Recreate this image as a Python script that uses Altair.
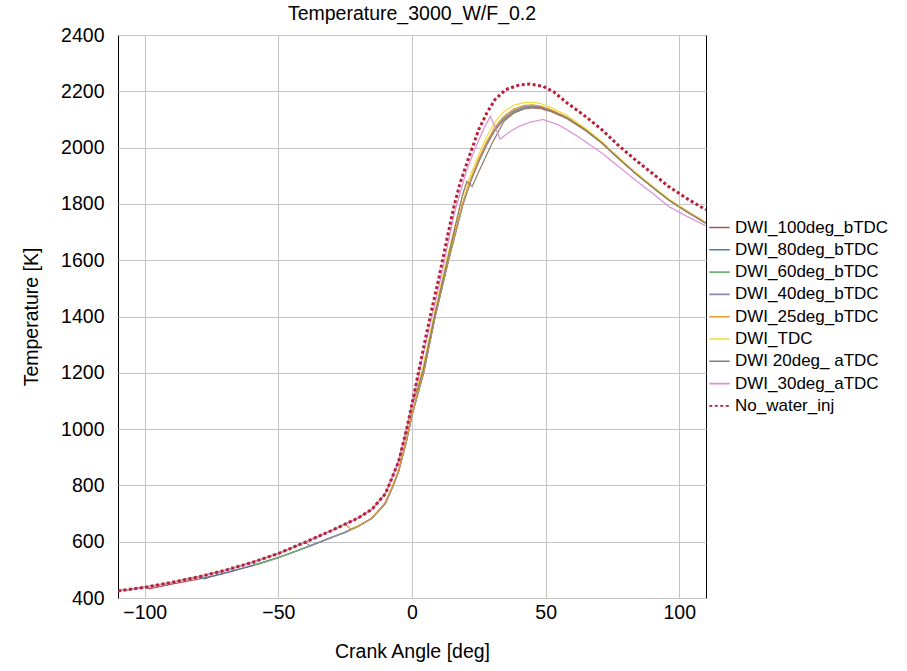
import altair as alt
import pandas as pd

# ---------------- data ----------------
series_names = [
    "DWI_100deg_bTDC", "DWI_80deg_bTDC", "DWI_60deg_bTDC", "DWI_40deg_bTDC",
    "DWI_25deg_bTDC", "DWI_TDC", "DWI 20deg_ aTDC", "DWI_30deg_aTDC", "No_water_inj",
]
series_colors = ["#b5524f", "#4a7e9b", "#6fb56f", "#9384b5", "#e49a2c",
                 "#f0dc3c", "#8a7d6e", "#d98fd6", "#b8203c"]

post_x = [0, 2, 4.3, 8.6, 13.6, 19, 22, 25, 28, 31, 34, 38, 42, 45, 48, 52, 58,
          65, 71, 77, 83.5, 90, 96, 103, 110]

dwi100_x = [-110, -100, -98, -90, -80, -70, -60, -50, -40, -30, -25, -20, -15, -10, -7, -5, -2] + post_x
dwi100_y = [425, 438, 433, 449, 467, 488, 514, 543, 578, 615, 633, 655, 683, 735, 800, 850, 960,
            1048, 1118, 1196, 1395, 1596, 1796, 1881, 1950, 2010, 2060, 2096, 2124, 2138, 2141,
            2139, 2128, 2103, 2060, 2016, 1963, 1909, 1859, 1814, 1771, 1731]

dwi80_x = [-110, -100, -90, -80, -78, -70, -60, -50, -40, -30, -25, -20, -15, -10, -7, -5, -2] + post_x
dwi80_y = [425, 438, 455, 475, 468, 489, 515, 544, 579, 616, 634, 656, 684, 737, 802, 852, 962,
           1052, 1121, 1202, 1402, 1601, 1801, 1886, 1956, 2016, 2066, 2101, 2130, 2144, 2147,
           2144, 2131, 2106, 2063, 2019, 1966, 1911, 1861, 1816, 1773, 1733]

dwi60_x = [-110, -100, -90, -80, -70, -60, -58, -50, -40, -30, -25, -20, -15, -10, -7, -5, -2] + post_x
dwi60_y = [425, 438, 455, 475, 498, 526, 518, 543, 578, 615, 633, 655, 683, 735, 800, 850, 960,
           1050, 1119, 1199, 1398, 1598, 1798, 1883, 1953, 2013, 2063, 2099, 2127, 2141, 2145,
           2142, 2130, 2105, 2062, 2018, 1965, 1910, 1860, 1815, 1772, 1732]

dwi40_x = [-110, -100, -90, -80, -70, -60, -50, -40, -38, -30, -25, -20, -15, -10, -7, -5, -2] + post_x
dwi40_y = [425, 438, 455, 475, 498, 526, 558, 598, 585, 616, 634, 656, 684, 736, 801, 851, 961,
           1051, 1121, 1201, 1401, 1600, 1800, 1885, 1955, 2015, 2066, 2102, 2131, 2146, 2149,
           2146, 2133, 2107, 2064, 2019, 1966, 1911, 1861, 1816, 1773, 1733]

dwi25_x = [-110, -100, -90, -80, -70, -60, -50, -40, -30, -25, -23, -20, -15, -10, -7, -5, -2] + post_x
dwi25_y = [425, 438, 455, 475, 498, 526, 558, 598, 640, 662, 645, 656, 684, 740, 805, 855, 965,
           1055, 1125, 1205, 1405, 1605, 1805, 1890, 1962, 2022, 2072, 2108, 2137, 2150, 2152,
           2148, 2135, 2108, 2065, 2020, 1967, 1912, 1862, 1817, 1774, 1734]

pre_nw_x = [-110, -100, -90, -80, -70, -60, -50, -40, -30, -20, -15, -10, -8, -5, -2]
pre_nw_y = [425, 438, 455, 475, 498, 526, 558, 598, 640, 685, 715, 770, 815, 885, 1000]

dwitdc_x = pre_nw_x + [0, 2, 4.3, 8, 13, 18.5, 22, 25, 28, 31, 34, 38, 42, 45, 48, 52, 58,
                       65, 71, 77, 83.5, 90, 96, 103, 110]
dwitdc_y = pre_nw_y + [1085, 1150, 1230, 1395, 1605, 1815, 1905, 1975, 2040, 2090, 2125, 2150,
                       2160, 2161, 2157, 2143, 2114, 2068, 2022, 1968, 1913, 1863, 1818, 1774, 1734]

dwi20a_x = pre_nw_x + [0, 2, 4.3, 8.6, 13.6, 19, 20.5, 22.5, 25, 30, 34.4, 38, 42, 45, 48, 52, 58,
                       65, 71, 77, 83.5, 90, 96, 103, 110]
dwi20a_y = pre_nw_y + [1085, 1140, 1215, 1410, 1615, 1835, 1880, 1862, 1915, 2016, 2093, 2122,
                       2138, 2143, 2141, 2130, 2105, 2062, 2017, 1964, 1909, 1859, 1814, 1771, 1731]

dwi30a_x = pre_nw_x + [0, 2.4, 5, 10, 15.8, 20.5, 24, 27, 29.3, 30.5, 33, 36.8, 40, 44, 49, 55, 62,
                       71, 77, 83.5, 90, 96, 103, 110]
dwi30a_y = pre_nw_y + [1088, 1190, 1300, 1505, 1765, 1921, 2005, 2070, 2111, 2085, 2030, 2058,
                       2075, 2090, 2100, 2080, 2040, 1981, 1935, 1885, 1838, 1791, 1755, 1722]

nowater_x = [-110, -100, -90, -80, -70, -60, -50, -40, -30, -20, -15, -10, -8, -5, -2, 0, 2.4, 5,
             6.8, 10, 11.2, 13.5, 15.8, 18, 20.7, 22.4, 25, 28, 31, 35, 40, 44, 49, 53, 58, 65,
             71, 77, 83.5, 90, 96, 103, 110]
nowater_y = [425, 438, 455, 475, 498, 526, 558, 598, 640, 685, 715, 770, 815, 885, 1000, 1090,
             1200, 1320, 1400, 1535, 1590, 1695, 1795, 1874, 1950, 1995, 2065, 2123, 2170, 2206,
             2222, 2226, 2218, 2198, 2159, 2110, 2064, 2010, 1957, 1908, 1862, 1818, 1779]

all_x = [dwi100_x, dwi80_x, dwi60_x, dwi40_x, dwi25_x, dwitdc_x, dwi20a_x, dwi30a_x, nowater_x]
all_y = [dwi100_y, dwi80_y, dwi60_y, dwi40_y, dwi25_y, dwitdc_y, dwi20a_y, dwi30a_y, nowater_y]

rows = []
for name, xs, ys in zip(series_names, all_x, all_y):
    for i, (a, t) in enumerate(zip(xs, ys)):
        rows.append({"series": name, "angle": a, "temp": t, "idx": i})
df = pd.DataFrame(rows)

FONT = "Liberation Sans"

color_scale = alt.Scale(domain=series_names, range=series_colors)
dash_scale = alt.Scale(domain=series_names, range=[[1, 0]] * 8 + [[3, 2.5]])

x_enc = alt.X("angle:Q", title="Crank Angle [deg]",
              scale=alt.Scale(domain=[-110, 110], nice=False, zero=False),
              axis=alt.Axis(values=[-100, -50, 0, 50, 100], labelPadding=5, titlePadding=21))
y_enc = alt.Y("temp:Q", title="Temperature [K]",
              scale=alt.Scale(domain=[400, 2400], nice=False, zero=False),
              axis=alt.Axis(values=list(range(400, 2401, 200)), format="d",
                            labelPadding=14, titlePadding=19))

legend = alt.Legend(title=None)

enc = dict(
    x=x_enc,
    y=y_enc,
    color=alt.Color("series:N", scale=color_scale, legend=legend),
    strokeDash=alt.StrokeDash("series:N", scale=dash_scale, legend=legend),
    order=alt.Order("idx:Q"),
)

water = alt.Chart(df).mark_line(clip=True, strokeWidth=1.2).encode(**enc).transform_filter(
    alt.datum.series != "No_water_inj")
nowater = alt.Chart(df).mark_line(clip=True, strokeWidth=3).encode(**enc).transform_filter(
    alt.datum.series == "No_water_inj")

chart = alt.layer(water, nowater).properties(
    width=588,
    height=563,
    background="white",
    title=alt.TitleParams("Temperature_3000_W/F_0.2", font=FONT, fontSize=19.5,
                          fontWeight="normal", color="black", frame="group", offset=1),
    autosize=alt.AutoSizeParams(type="none"),
    padding={"left": 118, "top": 35, "right": 201, "bottom": 73},
).configure_view(
    stroke="black", strokeWidth=1
).configure_axis(
    grid=True, gridColor="#c4c4c4", gridWidth=1, domain=False, ticks=False,
    labelFont=FONT, labelFontSize=19.5, labelColor="black",
    titleFont=FONT, titleFontSize=19.5, titleFontWeight="normal", titleColor="black",
).configure_legend(
    orient="none", legendX=590, legendY=181,
    symbolType="stroke", symbolSize=420, symbolStrokeWidth=1.6,
    labelFont=FONT, labelFontSize=17,
    labelColor="black", labelLimit=0, rowPadding=2.3, labelOffset=4,
)

chart.save("out.html", embed_options={"renderer": "svg", "actions": False})
